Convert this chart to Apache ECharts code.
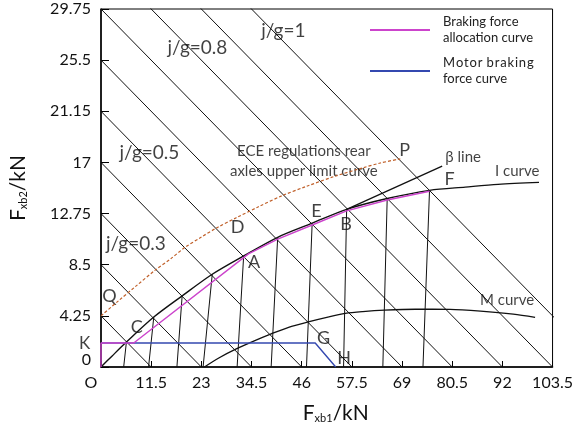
<!DOCTYPE html>
<html>
<head>
<meta charset="utf-8">
<script src="https://cdn.jsdelivr.net/npm/echarts/dist/echarts.min.js"></script>
<style>
  html, body { margin: 0; padding: 0; background: #fff; }
  #chart { width: 576px; height: 429px; }
</style>
</head>
<body>
<div id="chart"></div>
<script>
// axis ticks
const xTickLabels = ['O', '11.5', '23', '34.5', '46', '57.5', '69', '80.5', '92', '103.5'];
const yTickLabels = ['0', '4.25', '8.5', '12.75', '17', '21.15', '25.5', '29.75'];

// j/g iso-deceleration lines (x and y intercepts)
const isoX = [11.5, 23, 34.5, 46, 57.5, 69, 80.5, 92, 103.5, 115];
const isoY = [4.25, 8.5, 12.75, 17, 21.25, 25.5, 29.75, 34, 38.25, 42.5];

// I curve
const iX = [0, 2.5, 5.82, 12.1, 18.6, 25.5, 32.7, 40.5, 48.4, 56.3, 65.6, 75.3, 83.5, 91.0, 100.4];
const iY = [0, 0.9, 2.07, 4.15, 5.91, 7.71, 9.23, 10.78, 11.95, 13.1, 14.0, 14.68, 14.95, 15.18, 15.34];

// near-vertical lines: top on I curve, foot on x axis
const fTopX = [5.82, 12.1, 18.6, 25.5, 32.7, 40.5, 48.4, 56.3, 65.6, 75.3];
const fTopY = [2.07, 4.15, 5.91, 7.71, 9.23, 10.78, 11.95, 13.1, 14.0, 14.68];
const fFootX = [5.2, 10.9, 17.4, 23.4, 31.2, 39.0, 47.1, 55.6, 64.6, 73.8];

// beta line
const betaX = [56.3, 78.2];
const betaY = [13.1, 16.7];

// M curve
const mX = [23.7, 27, 31, 35, 39, 43, 47.5, 52, 56, 60, 65, 72, 80, 87, 94.5, 99.5];
const mY = [0, 0.75, 1.5, 2.15, 2.75, 3.3, 3.75, 4.15, 4.45, 4.6, 4.72, 4.8, 4.79, 4.65, 4.4, 4.13];

// ECE regulations rear axle upper limit
const eceX = [0, 4, 8.07, 12.5, 16, 19.3, 23, 26.7, 31, 36, 41.6, 47, 53.6, 60, 64, 68.6];
const eceY = [4.25, 5.5, 6.74, 8.07, 9.0, 9.95, 10.8, 11.6, 12.4, 13.3, 14.25, 15.0, 15.85, 16.55, 16.95, 17.3];

// braking force allocation curve
const allocX = [0, 0, 7.5, 33.8, 40.5, 48.4, 56.3, 65.6, 75.3];
const allocY = [0, 2.0, 2.0, 9.4, 10.62, 11.8, 12.97, 13.88, 14.6];

// motor braking force curve
const motorX = [0, 49.1, 53.8];
const motorY = [2.0, 2.0, 0];

const zip = (xs, ys) => xs.map((x, i) => [x, ys[i]]);
const font = 'Lato, "Open Sans", sans-serif';
const ink = '#111';

// text annotations, placed in data units (label centres)
const notes = [
  { t: 'j/g=0.3', x: 8.0, y: 10.2, s: 19 },
  { t: 'j/g=0.5', x: 11.1, y: 17.83, s: 19 },
  { t: 'j/g=0.8', x: 22.1, y: 26.5, s: 19 },
  { t: 'j/g=1', x: 41.8, y: 27.95, s: 19 },
  { t: 'Q', x: 1.95, y: 5.89, s: 18 },
  { t: 'C', x: 8.2, y: 3.32, s: 18 },
  { t: 'A', x: 35.1, y: 8.71, s: 18 },
  { t: 'D', x: 31.3, y: 11.61, s: 18 },
  { t: 'E', x: 49.4, y: 12.94, s: 18 },
  { t: 'B', x: 56.2, y: 11.86, s: 18 },
  { t: 'F', x: 79.9, y: 15.59, s: 18 },
  { t: 'P', x: 69.6, y: 18.0, s: 18 },
  { t: 'G', x: 51.0, y: 2.41, s: 18 },
  { t: 'H', x: 55.7, y: 0.75, s: 18 },
  { t: 'K', x: -3.76, y: 1.99, s: 17 },
  { t: 'β line', x: 83.0, y: 17.44, s: 15 },
  { t: 'I curve', x: 95.4, y: 16.26, s: 15 },
  { t: 'M curve', x: 93.1, y: 5.56, s: 15 },
  { t: 'ECE regulations rear\naxles upper limit curve', x: 46.5, y: 17.09, s: 15 }
];

function line(name, data, color, width, extra) {
  return Object.assign({
    name: name,
    type: 'line',
    data: data,
    symbol: 'none',
    silent: true,
    color: color,
    lineStyle: { color: color, width: width }
  }, extra || {});
}

const allocName = 'Braking force\nallocation curve';
const motorName = 'M\u200Ao\u200At\u200Ao\u200Ar\u200A b\u200Ar\u200Aa\u200Ak\u200Ai\u200An\u200Ag\nforce curve';

const series = [];
isoX.forEach((x, i) => {
  series.push(line('iso' + i, [[x, 0], [0, isoY[i]]], '#111', 1));
});
fTopX.forEach((x, i) => {
  series.push(line('f' + i, [[fFootX[i], 0], [x, fTopY[i]]], '#111', 1));
});
series.push(line('M', zip(mX, mY), '#111', 1.3, { smooth: 0.3 }));
series.push(line('I', zip(iX, iY), '#111', 1.4, { smooth: 0.3 }));
series.push(line('beta', zip(betaX, betaY), '#111', 1.3));
series.push(line('ECE', zip(eceX, eceY), '#c0602a', 1.2,
  { smooth: 0.3, lineStyle: { color: '#c0602a', width: 1.2, type: [3, 2] } }));
series.push(line(motorName, zip(motorX, motorY), '#3448b0', 1.4));
series.push(line(allocName, zip(allocX, allocY), '#cc44cc', 1.4));
series.push({
  type: 'scatter',
  silent: true,
  clip: false,
  symbolSize: 1,
  itemStyle: { color: 'transparent' },
  data: notes.map(n => ({
    value: [n.x, n.y],
    label: {
      show: true,
      position: 'inside',
      formatter: n.t,
      fontSize: n.s,
      lineHeight: 20,
      color: ink,
      fontFamily: font,
      align: 'center',
      verticalAlign: 'middle'
    }
  }))
});

const chart = echarts.init(document.getElementById('chart'), null, { renderer: 'canvas' });
chart.setOption({
  animation: false,
  backgroundColor: '#fff',
  grid: {
    left: 94, right: 20, top: 9, bottom: 61,
    show: true, borderColor: '#000', borderWidth: 1, backgroundColor: 'transparent'
  },
  legend: {
    left: 370, top: 14,
    padding: 0,
    orient: 'vertical',
    icon: 'rect',
    itemWidth: 60, itemHeight: 2, itemGap: 9,
    selectedMode: false,
    data: [allocName, motorName],
    textStyle: { fontSize: 13, lineHeight: 16, color: '#222', fontFamily: font, padding: [0, 0, 0, 8] }
  },
  xAxis: {
    type: 'value', min: 0, max: 103.5, interval: 11.5,
    axisLine: { show: true, onZero: false, lineStyle: { color: '#000', width: 1.5 } },
    axisTick: { show: true, inside: true, length: 6, lineStyle: { color: '#000' } },
    splitLine: { show: false },
    axisLabel: {
      margin: 8, color: ink, fontSize: 16, fontFamily: font,
      formatter: v => {
        const i = Math.round(v / 11.5);
        return i === 0 ? '{o|O}' : xTickLabels[i];
      },
      rich: { o: { padding: [0, 20, 0, 0], fontSize: 16, color: ink, fontFamily: font } }
    },
    name: '{a|F}{s|xb1}{a|/kN}',
    nameLocation: 'middle',
    nameGap: 36,
    nameTextStyle: {
      padding: [0, 0, 0, 18],
      rich: {
        a: { fontSize: 21, color: ink, fontFamily: font },
        s: { fontSize: 11, color: ink, fontFamily: font, verticalAlign: 'bottom' }
      }
    }
  },
  yAxis: {
    type: 'value', min: 0, max: 29.75, interval: 4.25,
    axisLine: { show: true, onZero: false, lineStyle: { color: '#000', width: 1.5 } },
    axisTick: { show: true, inside: true, length: 8, lineStyle: { color: '#000' } },
    splitLine: { show: false },
    axisLabel: {
      margin: 10, color: ink, fontSize: 16, fontFamily: font,
      formatter: v => {
        const i = Math.round(v / 4.25);
        return i === 0 ? '{z|0}' : yTickLabels[i];
      },
      rich: { z: { padding: [0, 0, 14, 0], fontSize: 16, color: ink, fontFamily: font } }
    },
    name: '{a|F}{s|xb2}{a|/kN}',
    nameLocation: 'middle',
    nameGap: 72,
    nameTextStyle: {
      rich: {
        a: { fontSize: 21, color: ink, fontFamily: font },
        s: { fontSize: 11, color: ink, fontFamily: font, verticalAlign: 'bottom' }
      }
    }
  },
  series: series
});
</script>
</body>
</html>
